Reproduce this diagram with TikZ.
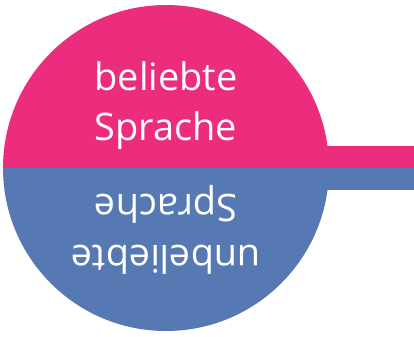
\documentclass[tikz,border=0pt]{standalone}
\usepackage{fontspec}
\setmainfont{Open Sans}
\usepackage{xcolor}
\definecolor{likedcolor}{HTML}{EC2C7D}
\definecolor{dislikedcolor}{HTML}{5679B3}
\usepackage{tikz}

\begin{document}
\begin{tikzpicture}[x=0.02cm, y=0.02cm,
    label/.style={white, font=\fontsize{21.6}{26}\selectfont, anchor=base, inner sep=0pt}]
  \useasboundingbox (0,0) rectangle (414,336);
  % halves of the circle and the bar
  \fill[likedcolor] (3,168) arc[start angle=180, end angle=0, radius=163] -- cycle;
  \fill[dislikedcolor] (3,168) arc[start angle=180, end angle=360, radius=163] -- cycle;
  \fill[likedcolor] (320,168) rectangle (414,190);
  \fill[dislikedcolor] (320,146) rectangle (414,168);
  \node[label] (top1) at (166,246) {beliebte};
  \node[label] (top2) at (166,196) {Sprache};
  \node[label, rotate=180] (bot1) at (166,142) {Sprache};
  \node[label, rotate=180] (bot2) at (166,91) {unbeliebte};
\end{tikzpicture}
\end{document}
